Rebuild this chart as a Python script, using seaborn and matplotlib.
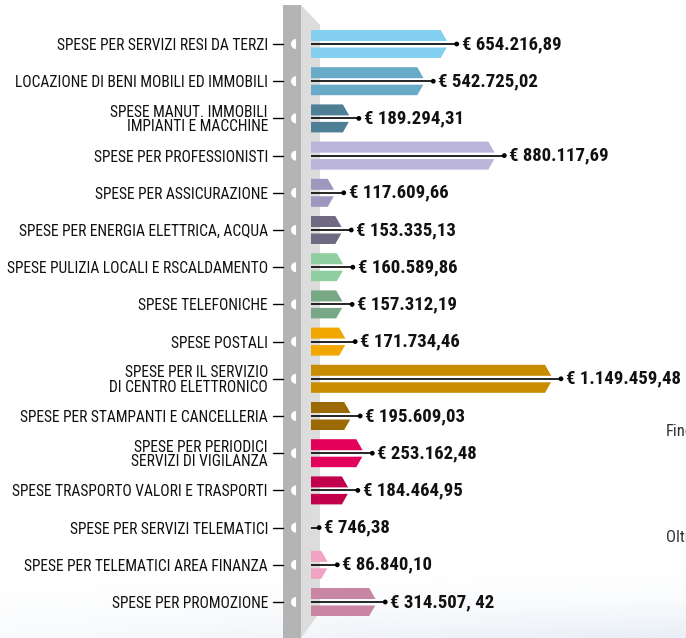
import matplotlib
matplotlib.use("Agg")
import matplotlib.pyplot as plt
import matplotlib.font_manager as fm
from matplotlib.patches import Polygon, Wedge
import numpy as np
import seaborn as sns
import pandas as pd

# dati
categorie = [
    "SPESE PER SERVIZI RESI DA TERZI",
    "LOCAZIONE DI BENI MOBILI ED IMMOBILI",
    "SPESE MANUT. IMMOBILI\nIMPIANTI E MACCHINE",
    "SPESE PER PROFESSIONISTI",
    "SPESE PER ASSICURAZIONE",
    "SPESE PER ENERGIA ELETTRICA, ACQUA",
    "SPESE PULIZIA LOCALI E RSCALDAMENTO",
    "SPESE TELEFONICHE",
    "SPESE POSTALI",
    "SPESE PER IL SERVIZIO\nDI CENTRO ELETTRONICO",
    "SPESE PER STAMPANTI E CANCELLERIA",
    "SPESE PER PERIODICI\nSERVIZI DI VIGILANZA",
    "SPESE TRASPORTO VALORI E TRASPORTI",
    "SPESE PER SERVIZI TELEMATICI",
    "SPESE PER TELEMATICI AREA FINANZA",
    "SPESE PER PROMOZIONE",
]
valori = [654216.89, 542725.02, 189294.31, 880117.69, 117609.66, 153335.13,
          160589.86, 157312.19, 171734.46, 1149459.48, 195609.03, 253162.48,
          184464.95, 746.38, 86840.10, 314507.42]
etichette = ["€ 654.216,89", "€ 542.725,02", "€ 189.294,31", "€ 880.117,69",
             "€ 117.609,66", "€ 153.335,13", "€ 160.589,86", "€ 157.312,19",
             "€ 171.734,46", "€ 1.149.459,48", "€ 195.609,03", "€ 253.162,48",
             "€ 184.464,95", "€ 746,38", "€ 86.840,10", "€ 314.507, 42"]
colori = ["#82cff0", "#68aac8", "#4e7f95", "#bab4da", "#9e98bf", "#6f6a82",
          "#8fcf9f", "#78a886", "#f2a600", "#c98b00", "#9b6a05", "#e2005b",
          "#c2004b", "#c9a3b3", "#f2a3c3", "#c886a2"]

df = pd.DataFrame({"categoria": categorie, "valore": valori,
                   "etichetta": etichette, "colore": colori})
df["riga"] = range(len(df))

# font condensato se disponibile
nomi = {f.name for f in fm.fontManager.ttflist}
font = "DejaVu Sans"
for cand in ["Liberation Sans Narrow", "DejaVu Sans Condensed", "Roboto Condensed"]:
    if cand in nomi:
        font = cand
        break

sns.set_theme(style="white")
plt.rcParams["font.family"] = [font, "DejaVu Sans"]

W, H = 686, 638
fig = plt.figure(figsize=(W / 100, H / 100), dpi=100)

# sfondo: leggera sfumatura in basso e barra grigia verticale (pixel)
bg = fig.add_axes([0, 0, 1, 1])
bg.set_xlim(0, W)
bg.set_ylim(H, 0)
bg.axis("off")
rgba = np.zeros((60, 200, 4))
rgba[..., :3] = matplotlib.colors.to_rgb("#dfe8f2")
rgba[..., 3] = (np.linspace(0, 1, 60)[:, None] ** 1.5) * np.linspace(0.2, 0.7, 200)[None, :]
bg.imshow(rgba, extent=(0, W, H, 570), aspect="auto", zorder=0)
bg.add_patch(Polygon([(301, 5), (320, 25), (320, 612), (301, 638)],
                     closed=True, color="#dcdcdc", lw=0, zorder=1))
bg.add_patch(Polygon([(283, 5), (301, 5), (301, 638), (283, 638)],
                     closed=True, color="#b4b4b4", lw=0, zorder=1))
y0, passo = 44, 37.2
for i in range(len(df)):
    yc = y0 + i * passo
    bg.plot([273, 283], [yc, yc], color="black", lw=1, zorder=2)
    bg.add_patch(Wedge((296, yc), 5, 90, 270, color="white", lw=0, zorder=2))
bg.text(666, 432, "Fino", fontsize=12, color="#333333", va="center")
bg.text(666, 538, "Oltre", fontsize=12, color="#333333", va="center")
bg.set_xlim(0, W)
bg.set_ylim(H, 0)

# asse principale
x_px0 = 311
scala = 242 / 1149459.48  # pixel per euro
ax = fig.add_axes([x_px0 / W, 0, (W - x_px0) / W, 1])
ax.patch.set_alpha(0)
ax.set_xlim(0, (W - x_px0) / scala)
ax.set_ylim((H - y0) / passo, -y0 / passo)
for s in ax.spines.values():
    s.set_visible(False)
ax.set_xticks([])

px_x = 1 / scala     # euro per pixel
px_y = 1 / passo     # righe per pixel
punta = 8 * px_x
h_top, h_gap_up, h_gap_dn, h_bot = 14 * px_y, 3 * px_y, 3.5 * px_y, 14 * px_y

for _, r in df.iterrows():
    v, y = r["valore"], r["riga"]
    d = min(punta, v)
    sup = [(0, y - h_top), (v - d, y - h_top),
           (v - d * h_gap_up / h_top, y - h_gap_up), (0, y - h_gap_up)]
    inf = [(0, y + h_gap_dn), (v - d * h_gap_dn / h_bot, y + h_gap_dn),
           (v - d, y + h_bot), (0, y + h_bot)]
    ax.add_patch(Polygon(sup, closed=True, color=r["colore"], lw=0))
    ax.add_patch(Polygon(inf, closed=True, color=r["colore"], lw=0))
    ax.plot([0, v + 8 * px_x], [y, y], color="black", lw=1.2, solid_capstyle="butt")
    ax.text(v + 13 * px_x, y, r["etichetta"], fontsize=13.5, fontweight="bold",
            va="center", ha="left", color="#111111")

df["punto"] = df["valore"] + 8 * px_x
sns.scatterplot(data=df, x="punto", y="riga", color="black", s=12,
                edgecolor="none", ax=ax, zorder=5)
ax.set_xlabel("")
ax.set_ylabel("")

ax.set_yticks(df["riga"])
ax.set_yticklabels(df["categoria"], fontsize=11.2, color="#111111", linespacing=0.95)
ax.tick_params(axis="y", length=0, pad=43 * 72 / 100)

fig.savefig("out.png", dpi=100)
